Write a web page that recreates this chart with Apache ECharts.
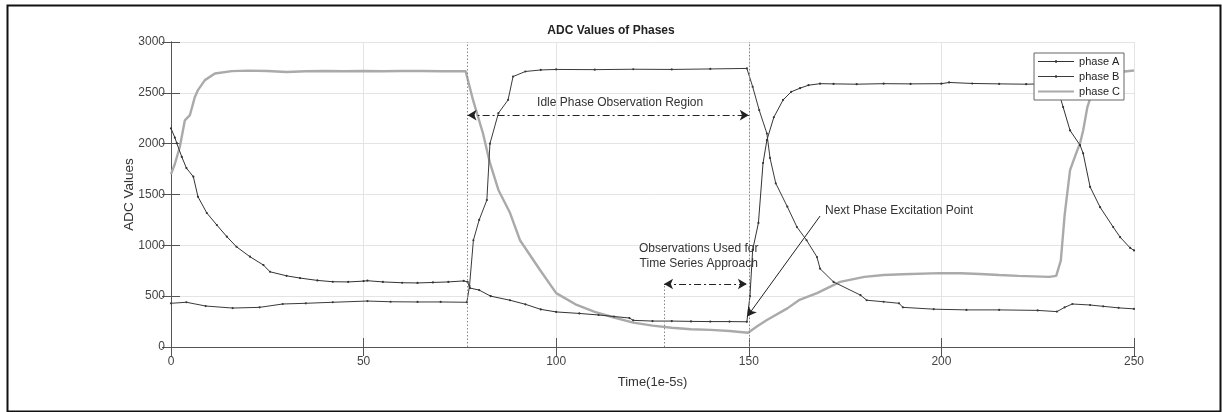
<!DOCTYPE html>
<html>
<head>
<meta charset="utf-8">
<script src="https://cdn.jsdelivr.net/npm/echarts@6/dist/echarts.min.js"></script>
<style>
  html, body { margin: 0; padding: 0; background: #fff; }
  #chart { width: 1222px; height: 412px; }
</style>
</head>
<body>
<div id="chart"></div>
<script>
// Sample times (1e-5 s) and ADC readings for each phase
const phaseATime = [0, 1, 1.5, 2.8, 4, 5.8, 7, 9.3, 11.9, 14.5, 17, 20.5, 24, 25.7, 30, 33.5, 38, 42, 46, 50, 51, 55, 60, 64, 68, 72, 76, 77, 77.6, 80, 83, 88, 92, 96, 100, 106, 111, 115, 119, 120, 125, 130, 135, 140, 145, 149.5, 150.3, 151, 152.5, 153.7, 154.7, 156.5, 158.9, 161, 163.3, 165.5, 168.5, 172, 178, 185, 192, 200, 202, 208, 215, 222, 229, 230.5, 231.6, 233.4, 236, 236.8, 238.6, 241.2, 244.6, 246.4, 249, 250];
const phaseAValues = [2150, 2060, 2005, 1870, 1760, 1675, 1478, 1318, 1200, 1085, 986, 888, 806, 740, 700, 678, 655, 642, 640, 648, 652, 640, 632, 630, 635, 640, 650, 640, 580, 560, 500, 460, 420, 370, 345, 330, 315, 300, 285, 262, 255, 255, 252, 250, 250, 248, 500, 955, 1220, 1810, 2035, 2260, 2430, 2510, 2546, 2575, 2590, 2588, 2585, 2590, 2588, 2590, 2602, 2592, 2588, 2585, 2590, 2500, 2360, 2130, 1985, 1905, 1575, 1375, 1180, 1080, 975, 950];

const phaseBTime = [0, 4, 9, 16, 23, 29, 35, 42, 51, 57, 64, 70, 76.8, 77.5, 78.5, 80, 82, 82.8, 85, 87.5, 88.8, 92, 96, 100, 110, 120, 130, 140, 149.5, 151, 152.7, 154.7, 155.5, 157, 160, 162.5, 165, 167.7, 168.5, 172, 179, 180.6, 185, 189, 190, 198, 206.5, 215, 225, 230, 232, 234, 238.6, 242, 246, 250];
const phaseBValues = [430, 440, 403, 383, 390, 423, 430, 440, 452, 445, 443, 443, 440, 600, 1050, 1250, 1445, 2000, 2300, 2430, 2660, 2710, 2725, 2730, 2728, 2732, 2730, 2735, 2740, 2560, 2330, 2100, 1860, 1610, 1380, 1180, 1050, 885, 770, 640, 510, 460, 445, 430, 390, 372, 365, 365, 360, 348, 390, 423, 413, 400, 385, 375];

const phaseCTime = [0, 1, 2.3, 3.6, 4.9, 6.2, 7, 8.8, 11.4, 15.8, 20, 25, 30, 35, 40, 45, 50, 55, 60, 65, 70, 76.5, 78.4, 81, 82.8, 85, 88, 90.6, 95.8, 100, 105, 110, 115, 120, 125, 130, 135, 140, 145, 149.8, 152, 154.7, 160, 163, 167.7, 173.7, 180, 185, 190, 199.6, 205, 210, 215, 220, 228, 229.8, 231, 232, 233.4, 235, 236, 236.8, 237.9, 239.5, 242, 245, 250];
const phaseCValues = [1700, 1800, 1970, 2230, 2280, 2460, 2527, 2625, 2690, 2714, 2718, 2715, 2705, 2712, 2715, 2712, 2715, 2712, 2715, 2715, 2712, 2712, 2430, 2100, 1810, 1545, 1320, 1050, 757, 530, 420, 345, 290, 240, 210, 190, 175, 168, 158, 140, 200, 265, 380, 460, 530, 640, 690, 708, 715, 727, 725, 718, 708, 700, 690, 700, 850, 1300, 1740, 1907, 2005, 2130, 2360, 2550, 2650, 2700, 2720];

// Axis ticks
const xTicks = [0, 50, 100, 150, 200, 250];
const yTicks = [0, 500, 1000, 1500, 2000, 2500, 3000];

// Annotation anchors (time, ADC value)
const idleStart = 77, idleEnd = 150;
const idleArrowLevel = 2280;
const tsStart = 128, tsEnd = 149.5, tsArrowLevel = 620;
const excitationFrom = [168.5, 1288];
const excitationTo = [149.6, 300];

const pairs = (t, v) => t.map((x, i) => [x, v[i]]);

const FONT = '"Liberation Sans", Arial, Helvetica, sans-serif';
const TXT = '#333';

// Legend glyphs: thin line with a small dot, and a plain thicker line
const ICON_DOTTED = 'path://M0,4.5L40,4.5L40,5.5L0,5.5Z M19,3.6L21,3.6L21,6.4L19,6.4Z';
const ICON_THICK = 'path://M0,3.8L40,3.8L40,6.2L0,6.2Z';

const chart = echarts.init(document.getElementById('chart'), null, { renderer: 'canvas' });

const dashDot = [7, 3, 2, 3];
const plain = v => String(v);

const option = {
  animation: false,
  backgroundColor: '#fff',
  title: {
    text: 'ADC Values of Phases',
    left: 'center',
    top: 20,
    textStyle: { fontFamily: FONT, fontSize: 12, fontWeight: 'bold', color: '#222' }
  },
  legend: {
    orient: 'vertical',
    right: 98,
    top: 53,
    itemWidth: 36,
    itemHeight: 10,
    itemGap: 4,
    padding: [3, 4, 3, 4],
    borderColor: '#666',
    borderWidth: 1,
    backgroundColor: '#fff',
    textStyle: { fontFamily: FONT, fontSize: 11, color: '#222' },
    data: [
      { name: 'phase A', icon: ICON_DOTTED },
      { name: 'phase B', icon: ICON_DOTTED },
      { name: 'phase C', icon: ICON_THICK }
    ]
  },
  grid: { left: 171, right: 88, top: 42, bottom: 65, containLabel: false },
  graphic: [{
    type: 'rect',
    left: 5, top: 3,
    shape: { width: 1213, height: 406 },
    style: { fill: 'none', stroke: '#111', lineWidth: 2 },
    silent: true
  }],
  xAxis: [{
    type: 'value', min: xTicks[0], max: xTicks[xTicks.length - 1], interval: 50,
    name: 'Time(1e-5s)', nameLocation: 'middle', nameGap: 29,
    nameTextStyle: { fontFamily: FONT, fontSize: 13, color: TXT },
    axisLine: { lineStyle: { color: '#555', width: 1 } },
    axisTick: { inside: true, length: 9, lineStyle: { color: '#555' } },
    axisLabel: { fontFamily: FONT, fontSize: 12, color: '#444', margin: 9, formatter: plain },
    splitLine: { show: true, lineStyle: { color: '#e4e4e4', width: 1 } }
  }, {
    type: 'value', position: 'top', min: 0, max: 250, interval: 50,
    axisLine: { show: true, lineStyle: { color: '#555', width: 1 } },
    axisTick: { inside: true, length: 9, lineStyle: { color: '#555' } },
    axisLabel: { show: false }, splitLine: { show: false }
  }],
  yAxis: [{
    type: 'value', min: yTicks[0], max: yTicks[yTicks.length - 1], interval: 500,
    name: 'ADC Values', nameLocation: 'middle', nameGap: 35, nameMoveOverlap: false,
    nameTextStyle: { fontFamily: FONT, fontSize: 13.5, color: TXT },
    axisLine: { show: true, lineStyle: { color: '#555', width: 1 } },
    axisTick: { show: true, inside: true, length: 9, lineStyle: { color: '#555' } },
    axisLabel: { fontFamily: FONT, fontSize: 12, color: '#444', margin: 6, formatter: plain },
    splitLine: { show: true, lineStyle: { color: '#e4e4e4', width: 1 } }
  }, {
    type: 'value', position: 'right', min: 0, max: 3000, interval: 500,
    axisLine: { show: true, lineStyle: { color: '#555', width: 1 } },
    axisTick: { show: true, inside: true, length: 9, lineStyle: { color: '#555' } },
    axisLabel: { show: false }, splitLine: { show: false }
  }],
  series: [
    {
      name: 'phase C', type: 'line', data: pairs(phaseCTime, phaseCValues),
      color: '#aaaaaa', lineStyle: { width: 2.4, color: '#aaaaaa' },
      showSymbol: false, symbol: 'none', z: 2,
      markLine: {
        silent: true, symbol: ['none', 'none'],
        label: { show: false },
        lineStyle: { color: '#888', type: [1.5, 2], width: 1 },
        data: [
          [{ coord: [idleStart, 0] }, { coord: [idleStart, 3000] }],
          [{ coord: [idleEnd, 0] }, { coord: [idleEnd, 3000] }],
          [{ coord: [tsStart, 0] }, { coord: [tsStart, tsArrowLevel] }]
        ]
      }
    },
    {
      name: 'phase A', type: 'line', data: pairs(phaseATime, phaseAValues),
      color: '#333', lineStyle: { width: 1, color: '#333' },
      symbol: 'circle', symbolSize: 2.2, showSymbol: true, showAllSymbol: true,
      itemStyle: { color: '#333' }, z: 3,
      markLine: {
        silent: true,
        label: { show: false },
        symbol: ['arrow', 'arrow'], symbolSize: [8, 9],
        lineStyle: { color: '#222', type: dashDot, width: 1.2 },
        data: [
          [{ coord: [idleStart, idleArrowLevel] }, { coord: [idleEnd, idleArrowLevel] }],
          [{ coord: [tsStart, tsArrowLevel] }, { coord: [tsEnd, tsArrowLevel] }],
          [{ coord: excitationFrom, symbol: 'none', lineStyle: { type: 'solid', width: 1 } },
           { coord: excitationTo, symbol: 'arrow' }]
        ]
      },
      markPoint: {
        silent: true,
        symbol: 'circle', symbolSize: 0,
        itemStyle: { color: 'rgba(0,0,0,0)' },
        label: { show: true, position: 'inside', fontFamily: FONT, fontSize: 12, color: '#333', lineHeight: 15 },
        data: [
          { coord: [116.6, 2400], label: { formatter: 'Idle Phase Observation Region' } },
          { coord: [137, 895], label: { formatter: 'Observations Used for\nTime Series Approach' } },
          { coord: [189, 1337], label: { formatter: 'Next Phase Excitation Point' } }
        ]
      }
    },
    {
      name: 'phase B', type: 'line', data: pairs(phaseBTime, phaseBValues),
      color: '#3a3a3a', lineStyle: { width: 1, color: '#3a3a3a' },
      symbol: 'circle', symbolSize: 2.2, showSymbol: true, showAllSymbol: true,
      itemStyle: { color: '#3a3a3a' }, z: 3
    }
  ]
};

chart.setOption(option);
</script>
</body>
</html>
